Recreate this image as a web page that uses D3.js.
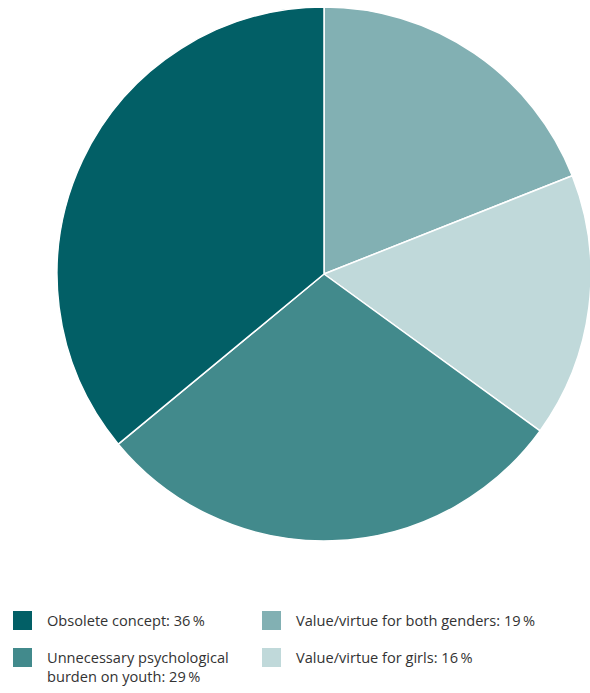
<!DOCTYPE html>
<html>
<head>
<meta charset="utf-8">
<script src="https://cdn.jsdelivr.net/npm/d3@7"></script>
<style>
  html, body { margin: 0; padding: 0; background: #fff; }
  svg { display: block; }
  .legend text { font-family: "Open Sans", "Noto Sans", sans-serif; font-size: 14.6px; fill: #333; }
</style>
</head>
<body>
<svg id="chart" width="590" height="693"></svg>
<script>
// Survey answers, in drawing order (clockwise from 12 o'clock)
const categories = [
  "Value/virtue for both genders",
  "Value/virtue for girls",
  "Unnecessary psychological burden on youth",
  "Obsolete concept"
];
const values = [19, 16, 29, 36];
const colors = ["#82b0b3", "#c0d9da", "#428a8c", "#025f66"];

// Legend layout: column-major, two columns
const legendOrder = [3, 2, 0, 1];
const legendLines = {
  0: ["Value/virtue for both genders: 19\u2009%"],
  1: ["Value/virtue for girls: 16\u2009%"],
  2: ["Unnecessary psychological", "burden on youth: 29\u2009%"],
  3: ["Obsolete concept: 36\u2009%"]
};

const svg = d3.select("#chart");
const cx = 324, cy = 274, r = 267;

const pie = d3.pie().sort(null).value(d => d);
const arc = d3.arc().innerRadius(0).outerRadius(r);

svg.append("g")
  .attr("transform", `translate(${cx},${cy})`)
  .selectAll("path")
  .data(pie(values))
  .join("path")
  .attr("d", arc)
  .attr("fill", (d, i) => colors[i])
  .attr("stroke", "#fff")
  .attr("stroke-width", 1.5)
  .attr("stroke-linejoin", "round");

const legend = svg.append("g").attr("class", "legend");
const colX = [13, 262];
const rowY = [611, 648];

legendOrder.forEach((idx, k) => {
  const col = Math.floor(k / 2), row = k % 2;
  const g = legend.append("g").attr("transform", `translate(${colX[col]},${rowY[row]})`);
  g.append("rect").attr("width", 19).attr("height", 19).attr("fill", colors[idx]);
  const t = g.append("text").attr("x", 34).attr("y", 15);
  legendLines[idx].forEach((line, j) => {
    t.append("tspan").attr("x", 34).attr("dy", j === 0 ? 0 : 18.5).text(line);
  });
});
</script>
</body>
</html>
